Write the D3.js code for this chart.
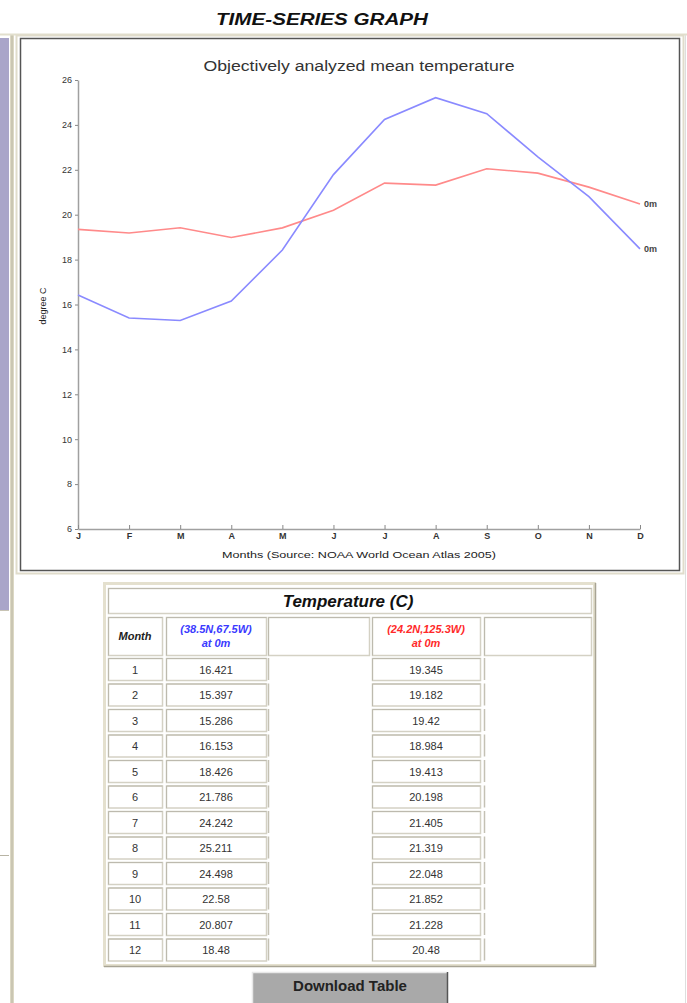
<!DOCTYPE html>
<html>
<head>
<meta charset="utf-8">
<script src="https://cdn.jsdelivr.net/npm/d3@7"></script>
<style>
  html, body { margin: 0; padding: 0; background: #fff; }
  svg { display: block; font-family: "Liberation Sans", Arial, sans-serif; }
</style>
</head>
<body>
<svg id="page" width="687" height="1003"></svg>
<script>
// Monthly mean temperature at 0 m, two ocean stations
const months = ["J", "F", "M", "A", "M", "J", "J", "A", "S", "O", "N", "D"];
const monthNumbers = [1, 2, 3, 4, 5, 6, 7, 8, 9, 10, 11, 12];
const stationA = "(38.5N,67.5W)";
const stationB = "(24.2N,125.3W)";
const tempA = [16.421, 15.397, 15.286, 16.153, 18.426, 21.786, 24.242, 25.211, 24.498, 22.58, 20.807, 18.48];
const tempB = [19.345, 19.182, 19.42, 18.984, 19.413, 20.198, 21.405, 21.319, 22.048, 21.852, 21.228, 20.48];
const yTicks = [6, 8, 10, 12, 14, 16, 18, 20, 22, 24, 26];

const colorA = "#8a8aff";
const colorB = "#ff8a8a";
const textA = "#3a3aff";
const textB = "#ff2a2a";

const svg = d3.select("#page");

// ---- page frame: side panel and borders ----
svg.append("rect").attr("x", 0).attr("y", 38).attr("width", 9).attr("height", 572).attr("fill", "#a9a5c9");
svg.append("line").attr("x1", 0).attr("x2", 9).attr("y1", 610.5).attr("y2", 610.5).attr("stroke", "#c8c4b4");
svg.append("line").attr("x1", 0).attr("x2", 9).attr("y1", 855.5).attr("y2", 855.5).attr("stroke", "#b8b4a4");
svg.append("rect").attr("x", 10).attr("y", 35).attr("width", 4).attr("height", 968).attr("fill", "#dcd8c4");
svg.append("line").attr("x1", 12).attr("x2", 12).attr("y1", 35).attr("y2", 1003).attr("stroke", "#b8b4a0").attr("stroke-width", 1);
svg.append("line").attr("x1", 0).attr("x2", 687).attr("y1", 34.5).attr("y2", 34.5).attr("stroke", "#e2dfcd").attr("stroke-width", 2);
svg.append("line").attr("x1", 685.5).attr("x2", 685.5).attr("y1", 35).attr("y2", 1003).attr("stroke", "#dedede");

// page heading
svg.append("text")
  .attr("x", 322).attr("y", 25)
  .attr("text-anchor", "middle")
  .attr("font-size", 16).attr("font-weight", "bold").attr("font-style", "italic")
  .attr("fill", "#111")
  .attr("textLength", 212).attr("lengthAdjust", "spacingAndGlyphs")
  .text("TIME-SERIES GRAPH");

// chart box
svg.append("rect").attr("x", 16.5).attr("y", 35.5).attr("width", 667).attr("height", 538)
  .attr("fill", "none").attr("stroke", "#e0dccb").attr("stroke-width", 2);
svg.append("rect").attr("x", 20.5).attr("y", 38.5).attr("width", 659).attr("height", 532)
  .attr("fill", "#fff").attr("stroke", "#555").attr("stroke-width", 1.5);

// ---- chart ----
const x = d3.scaleLinear().domain([1, 12]).range([78, 640]);
const y = d3.scaleLinear().domain([6, 26]).range([529, 80]);

svg.append("text")
  .attr("x", 359).attr("y", 71)
  .attr("text-anchor", "middle")
  .attr("font-size", 14).attr("fill", "#333")
  .attr("textLength", 311).attr("lengthAdjust", "spacingAndGlyphs")
  .text("Objectively analyzed mean temperature");

const yAxis = svg.append("g")
  .attr("transform", "translate(78,0)")
  .call(d3.axisLeft(y).tickValues(yTicks).tickSize(3).tickSizeOuter(0).tickPadding(3));
yAxis.select(".domain").attr("stroke", "#a0a0a0").attr("stroke-width", 1.5);
yAxis.selectAll(".tick line").attr("stroke", "#888");
yAxis.selectAll(".tick text").attr("font-size", 9).attr("fill", "#333").attr("font-family", "Liberation Sans, Arial, sans-serif");

const xAxis = svg.append("g")
  .attr("transform", "translate(0,529)")
  .call(d3.axisBottom(x).tickValues(monthNumbers).tickFormat((d, i) => months[i])
    .tickSizeInner(-4).tickSizeOuter(0).tickPadding(4));
xAxis.select(".domain").attr("stroke", "#a0a0a0").attr("stroke-width", 1.5);
xAxis.selectAll(".tick line").attr("stroke", "#888");
xAxis.selectAll(".tick text").attr("font-size", 9).attr("font-weight", "bold").attr("fill", "#333")
  .attr("font-family", "Liberation Sans, Arial, sans-serif");

svg.append("text")
  .attr("x", 359).attr("y", 558)
  .attr("text-anchor", "middle")
  .attr("font-size", 9).attr("fill", "#222")
  .attr("textLength", 274).attr("lengthAdjust", "spacingAndGlyphs")
  .text("Months (Source: NOAA World Ocean Atlas 2005)");

svg.append("text")
  .attr("transform", "translate(46,306) rotate(-90)")
  .attr("text-anchor", "middle")
  .attr("font-size", 9).attr("fill", "#222")
  .text("degree C");

const line = d3.line().x((d, i) => x(monthNumbers[i])).y(d => y(d));
[[tempB, colorB], [tempA, colorA]].forEach(([vals, col]) => {
  svg.append("path").datum(vals)
    .attr("fill", "none").attr("stroke", col).attr("stroke-width", 1.6)
    .attr("d", line);
  svg.append("text")
    .attr("x", x(12) + 4).attr("y", y(vals[11]) + 3)
    .attr("font-size", 9).attr("font-weight", "bold").attr("fill", "#444")
    .text("0m");
});

// ---- data table ----
const table = svg.append("g");
table.append("rect").attr("x", 104.5).attr("y", 583.5).attr("width", 490).attr("height", 382)
  .attr("fill", "#fff").attr("stroke", "#e4e0ce").attr("stroke-width", 3);
table.append("path").attr("d", "M104,966.5H595.5V583").attr("fill", "none").attr("stroke", "#a8a494").attr("stroke-width", 1.5);

function cell(x0, y0, w, h) {
  const g = table.append("g");
  g.append("rect").attr("x", x0 + 0.5).attr("y", y0 + 0.5).attr("width", w).attr("height", h)
    .attr("fill", "#fff").attr("stroke", "#d4d1c4").attr("stroke-width", 1.5);
  g.append("path").attr("d", `M${x0 + 0.5},${y0 + h + 0.5}V${y0 + 0.5}H${x0 + w + 0.5}`)
    .attr("fill", "none").attr("stroke", "#bdbaae").attr("stroke-width", 1);
}
function leftEdge(x0, y0, h) {
  table.append("line").attr("x1", x0 + 0.5).attr("x2", x0 + 0.5).attr("y1", y0).attr("y2", y0 + h)
    .attr("stroke", "#c4c1b4").attr("stroke-width", 1.5);
}

const cols = [
  { x: 108, w: 54 },
  { x: 166, w: 100 },
  { x: 268, w: 101 },
  { x: 372, w: 108 },
  { x: 484, w: 107 }
];

// title row
cell(108, 588, 483, 25);
table.append("text").attr("x", 348).attr("y", 607)
  .attr("text-anchor", "middle").attr("font-size", 17).attr("font-weight", "bold").attr("font-style", "italic")
  .attr("fill", "#111").text("Temperature (C)");

// header row
const hy = 617, hh = 38;
cols.forEach(c => cell(c.x, hy, c.w, hh));
table.append("text").attr("x", cols[0].x + cols[0].w / 2).attr("y", 640)
  .attr("text-anchor", "middle").attr("font-size", 11).attr("font-weight", "bold").attr("font-style", "italic")
  .attr("fill", "#222").text("Month");
[[cols[1], stationA, textA], [cols[3], stationB, textB]].forEach(([c, name, col]) => {
  const t = table.append("text").attr("text-anchor", "middle").attr("font-size", 11)
    .attr("font-weight", "bold").attr("font-style", "italic").attr("fill", col);
  t.append("tspan").attr("x", c.x + c.w / 2).attr("y", 633).text(name);
  t.append("tspan").attr("x", c.x + c.w / 2).attr("y", 647).text("at 0m");
});

// data rows
const rowTop = i => 658 + i * 25.5;
monthNumbers.forEach((m, i) => {
  const ty = rowTop(i);
  cell(cols[0].x, ty, cols[0].w, 22);
  cell(cols[1].x, ty, cols[1].w, 22);
  leftEdge(cols[2].x, ty, 22);
  cell(cols[3].x, ty, cols[3].w, 22);
  leftEdge(cols[4].x, ty, 22);
  const vals = [m, tempA[i], tempB[i]];
  [cols[0], cols[1], cols[3]].forEach((c, k) => {
    table.append("text").attr("x", c.x + c.w / 2).attr("y", ty + 15.5)
      .attr("text-anchor", "middle").attr("font-size", 11).attr("fill", "#333")
      .text(vals[k]);
  });
});

// download button
const btn = svg.append("g");
btn.append("rect").attr("x", 252).attr("y", 972).attr("width", 196).attr("height", 34).attr("fill", "#a9a9a9");
btn.append("path").attr("d", "M252.5,1003V972.5H447").attr("fill", "none").attr("stroke", "#e8e8e8").attr("stroke-width", 1.5);
btn.append("path").attr("d", "M447.5,972V1003").attr("fill", "none").attr("stroke", "#555").attr("stroke-width", 1.5);
btn.append("text").attr("x", 350).attr("y", 991)
  .attr("text-anchor", "middle").attr("font-size", 15).attr("font-weight", "bold").attr("fill", "#222")
  .text("Download Table");
</script>
</body>
</html>
